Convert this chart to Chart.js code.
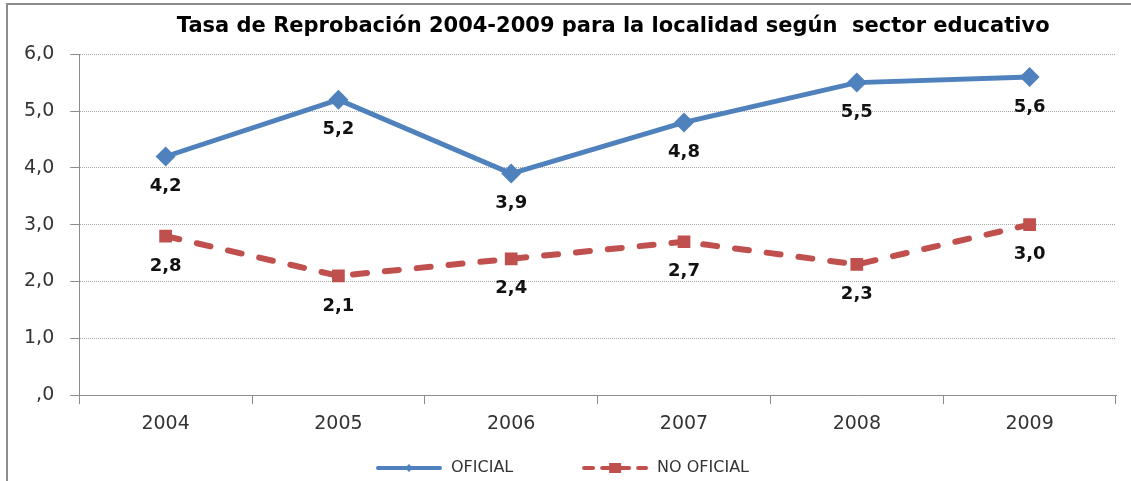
<!DOCTYPE html>
<html>
<head>
<meta charset="utf-8">
<script src="https://cdn.jsdelivr.net/npm/chart.js@4"></script>
<style>
    html, body { margin: 0; padding: 0; background: #fff; }
    #marco {
        position: absolute; left: 6px; top: 3px; width: 1130px; height: 480px;
        border-left: 2px solid #8c8c8c; border-top: 2px solid #8c8c8c;
    }
    #wrap { position: absolute; left: 0; top: 0; width: 1131px; height: 481px; }
</style>
</head>
<body>
<div id="marco"></div>
<div id="wrap"><canvas id="grafico"></canvas></div>
<script>
// datos
const anios = ['2004', '2005', '2006', '2007', '2008', '2009'];
const oficial = [4.2, 5.2, 3.9, 4.8, 5.5, 5.6];
const noOficial = [2.8, 2.1, 2.4, 2.7, 2.3, 3.0];
const nombres = ['OFICIAL', 'NO OFICIAL'];
const ticksY = [0, 1, 2, 3, 4, 5, 6];

const AZUL = '#4f81bd';
const ROJO = '#c0504d';

const fmt = v => (v === 0 ? ',0' : v.toFixed(1).replace('.', ','));

// icono de leyenda: linea + marcador
function iconoLeyenda(color, dash, forma) {
    const c = document.createElement('canvas');
    c.width = 68; c.height = 14;
    const g = c.getContext('2d');
    g.strokeStyle = color;
    g.fillStyle = color;
    g.lineWidth = 4;
    g.lineCap = 'round';
    g.setLineDash(dash);
    g.beginPath();
    g.moveTo(3, 7); g.lineTo(65, 7);
    g.stroke();
    g.setLineDash([]);
    if (forma === 'rombo') {
        g.beginPath();
        g.moveTo(34, 3); g.lineTo(38, 7); g.lineTo(34, 11); g.lineTo(30, 7);
        g.closePath(); g.fill();
    } else {
        g.fillRect(28, 2, 12, 10);
    }
    return c;
}

// etiquetas de datos debajo de cada punto
const etiquetas = {
    id: 'etiquetas',
    afterDatasetsDraw(chart) {
        const ctx = chart.ctx;
        ctx.save();
        ctx.font = 'bold 18px "DejaVu Sans"';
        ctx.fillStyle = '#111';
        ctx.textAlign = 'center';
        ctx.textBaseline = 'middle';
        chart.data.datasets.forEach((ds, i) => {
            chart.getDatasetMeta(i).data.forEach((pt, j) => {
                ctx.fillText(fmt(ds.data[j]), pt.x, pt.y + 30);
            });
        });
        ctx.restore();
    }
};

new Chart(document.getElementById('grafico'), {
    type: 'line',
    data: {
        labels: anios,
        datasets: [{
            label: nombres[0],
            data: oficial,
            borderColor: AZUL,
            backgroundColor: AZUL,
            borderWidth: 5,
            pointStyle: 'rectRot',
            pointRadius: 10,
            pointHoverRadius: 10,
            pointBorderWidth: 0,
            tension: 0
        }, {
            label: nombres[1],
            data: noOficial,
            borderColor: ROJO,
            backgroundColor: ROJO,
            borderWidth: 6,
            borderDash: [14, 18],
            borderCapStyle: 'round',
            pointStyle: 'rect',
            pointRadius: 9,
            pointHoverRadius: 9,
            pointBorderWidth: 0,
            tension: 0
        }]
    },
    options: {
        responsive: true,
        maintainAspectRatio: false,
        animation: false,
        layout: { padding: { left: 8, right: 15, top: 6, bottom: -5 } },
        plugins: {
            title: {
                display: true,
                // espacios iniciales para correr el titulo a la derecha como en el original
                text: '              Tasa de Reprobación 2004-2009 para la localidad según  sector educativo',
                color: '#000',
                font: { family: 'DejaVu Sans', size: 21, weight: 'bold' },
                padding: { top: 8, bottom: 15 }
            },
            legend: {
                position: 'bottom',
                labels: {
                    usePointStyle: true,
                    pointStyleWidth: 68,
                    color: '#333',
                    font: { family: 'DejaVu Sans', size: 16 },
                    padding: 17,
                    generateLabels(chart) {
                        return [
                            { text: nombres[0] + '          ', pointStyle: iconoLeyenda(AZUL, [], 'rombo'), datasetIndex: 0, fontColor: '#333' },
                            { text: nombres[1], pointStyle: iconoLeyenda(ROJO, [9, 9], 'cuadro'), datasetIndex: 1, fontColor: '#333' }
                        ];
                    }
                }
            },
            tooltip: { enabled: false }
        },
        scales: {
            x: {
                offset: true,
                grid: {
                    offset: true,
                    drawOnChartArea: false,
                    tickLength: 9,
                    color: '#8c8c8c'
                },
                border: { color: '#8c8c8c', width: 1 },
                ticks: {
                    color: '#333',
                    font: { family: 'DejaVu Sans', size: 19 },
                    padding: 8
                }
            },
            y: {
                min: ticksY[0],
                max: ticksY[ticksY.length - 1],
                afterBuildTicks(scale) {
                    scale.ticks = ticksY.map(v => ({ value: v }));
                },
                grid: {
                    color: '#a6a6a6',
                    tickLength: 9,
                    tickColor: '#8c8c8c',
                    tickBorderDash: []
                },
                border: { color: '#8c8c8c', width: 1, dash: [1, 1] },
                ticks: {
                    color: '#333',
                    font: { family: 'DejaVu Sans', size: 19 },
                    padding: 16,
                    callback: v => fmt(v)
                }
            }
        }
    },
    plugins: [etiquetas]
});
</script>
</body>
</html>
